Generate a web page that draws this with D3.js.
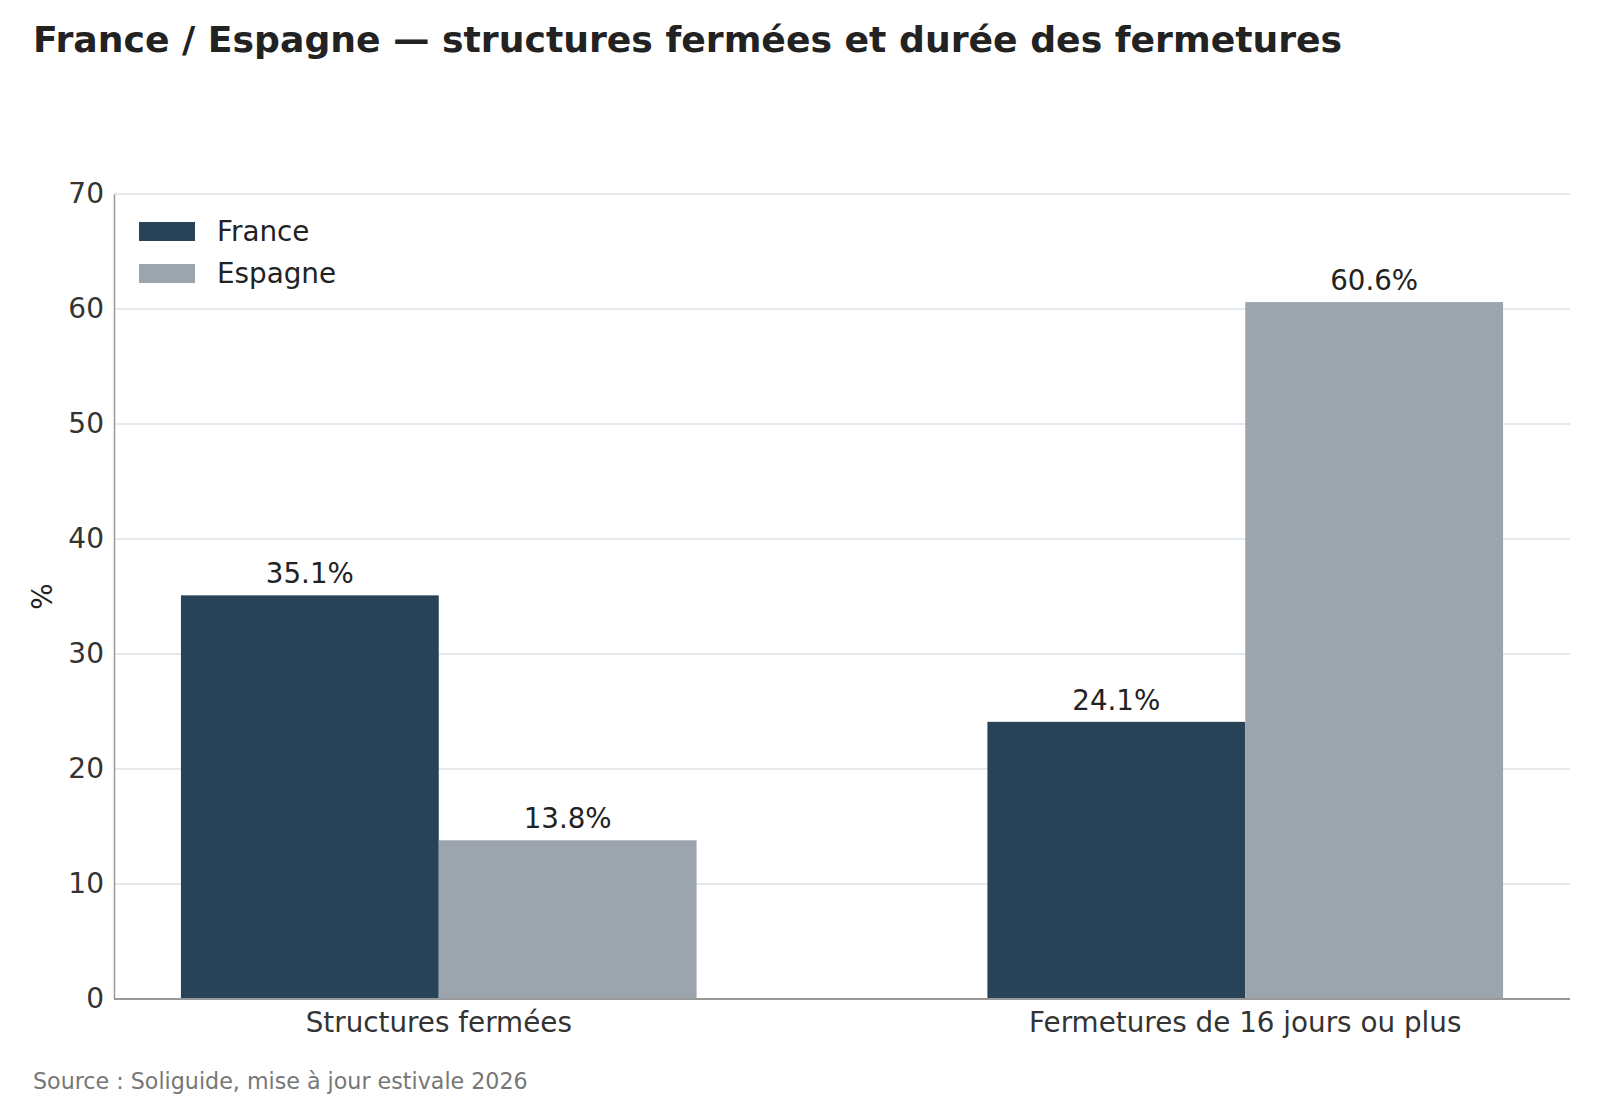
<!DOCTYPE html>
<html>
<head>
<meta charset="utf-8">
<script src="https://cdn.jsdelivr.net/npm/d3@7"></script>
<style>
  body { margin: 0; background: #fff; }
  text { font-family: "DejaVu Sans", sans-serif; }
</style>
</head>
<body>
<div id="chart"></div>
<script>
// Data
let categories = ['Structures fermées', 'Fermetures de 16 jours ou plus'];
let seriesNames = ['France', 'Espagne'];
let franceValues = [35.1, 24.1];
let espagneValues = [13.8, 60.6];
let yTicks = [0, 10, 20, 30, 40, 50, 60, 70];

let colors = { France: '#284257', Espagne: '#9ca5ad' };

let W = 1600, H = 1100;
let plot = { left: 114, right: 1570, top: 194, bottom: 999 };

let svg = d3.select('#chart')
    .append('svg')
    .attr('width', W)
    .attr('height', H);

// Scales
let x0 = d3.scaleBand()
    .domain(categories)
    .range([plot.left, plot.right])
    .paddingInner(0.3606)
    .paddingOuter(0.083);

let x1 = d3.scaleBand()
    .domain(seriesNames)
    .range([0, x0.bandwidth()]);

let y = d3.scaleLinear()
    .domain([0, 70])
    .range([plot.bottom, plot.top]);

let rows = categories.map(function (c, i) {
    return { cat: c, values: [
        { name: 'France', v: franceValues[i] },
        { name: 'Espagne', v: espagneValues[i] }
    ] };
});

// Gridlines
svg.append('g')
    .selectAll('line')
    .data(yTicks.filter(function (t) { return t > 0; }))
    .join('line')
    .attr('x1', plot.left)
    .attr('x2', plot.right)
    .attr('y1', function (d) { return y(d); })
    .attr('y2', function (d) { return y(d); })
    .attr('stroke', '#dde1e7')
    .attr('stroke-width', 1.5);

// Bars
let groups = svg.append('g')
    .selectAll('g')
    .data(rows)
    .join('g')
    .attr('transform', function (d) { return 'translate(' + x0(d.cat) + ',0)'; });

groups.selectAll('rect')
    .data(function (d) { return d.values; })
    .join('rect')
    .attr('x', function (d) { return x1(d.name); })
    .attr('width', x1.bandwidth())
    .attr('y', function (d) { return y(d.v); })
    .attr('height', function (d) { return y(0) - y(d.v); })
    .attr('fill', function (d) { return colors[d.name]; });

// Value labels
groups.selectAll('text')
    .data(function (d) { return d.values; })
    .join('text')
    .attr('x', function (d) { return x1(d.name) + x1.bandwidth() / 2; })
    .attr('y', function (d) { return y(d.v) - 12; })
    .attr('text-anchor', 'middle')
    .attr('font-size', 27.7)
    .attr('fill', '#222')
    .text(function (d) { return d.v.toFixed(1) + '%'; });

// Y axis
let yAxis = svg.append('g')
    .attr('transform', 'translate(' + plot.left + ',0)')
    .call(d3.axisLeft(y).tickValues(yTicks).tickSize(0).tickPadding(10));
yAxis.select('.domain').attr('stroke', '#999').attr('stroke-width', 1.5);
yAxis.selectAll('text')
    .attr('font-size', 28)
    .attr('fill', '#333')
    .style('font-family', '"DejaVu Sans", sans-serif');

// X axis
let xAxis = svg.append('g')
    .attr('transform', 'translate(0,' + plot.bottom + ')')
    .call(d3.axisBottom(x0).tickSize(0).tickPadding(13));
xAxis.select('.domain')
    .attr('d', 'M' + plot.left + ',0H' + plot.right)
    .attr('stroke', '#999')
    .attr('stroke-width', 2);
xAxis.selectAll('text')
    .attr('font-size', 27.8)
    .attr('fill', '#333')
    .style('font-family', '"DejaVu Sans", sans-serif');

// Y axis label
svg.append('text')
    .attr('transform', 'translate(52,' + ((plot.top + plot.bottom) / 2) + ') rotate(-90)')
    .attr('text-anchor', 'middle')
    .attr('font-size', 27.8)
    .attr('fill', '#222')
    .text('%');

// Legend
let legend = svg.append('g')
    .selectAll('g')
    .data(seriesNames)
    .join('g')
    .attr('transform', function (d, i) { return 'translate(139,' + (222 + i * 42) + ')'; });

legend.append('rect')
    .attr('width', 56)
    .attr('height', 19)
    .attr('fill', function (d) { return colors[d]; });

legend.append('text')
    .attr('x', 78)
    .attr('y', 19)
    .attr('font-size', 27.8)
    .attr('fill', '#222')
    .text(function (d) { return d; });

// Title
svg.append('text')
    .attr('x', 33)
    .attr('y', 52)
    .attr('font-size', 36.2)
    .attr('font-weight', 'bold')
    .attr('fill', '#222')
    .text('France / Espagne — structures fermées et durée des fermetures');

// Source
svg.append('text')
    .attr('x', 33)
    .attr('y', 1089)
    .attr('font-size', 22.2)
    .attr('fill', '#777')
    .text('Source : Soliguide, mise à jour estivale 2026');
</script>
</body>
</html>
